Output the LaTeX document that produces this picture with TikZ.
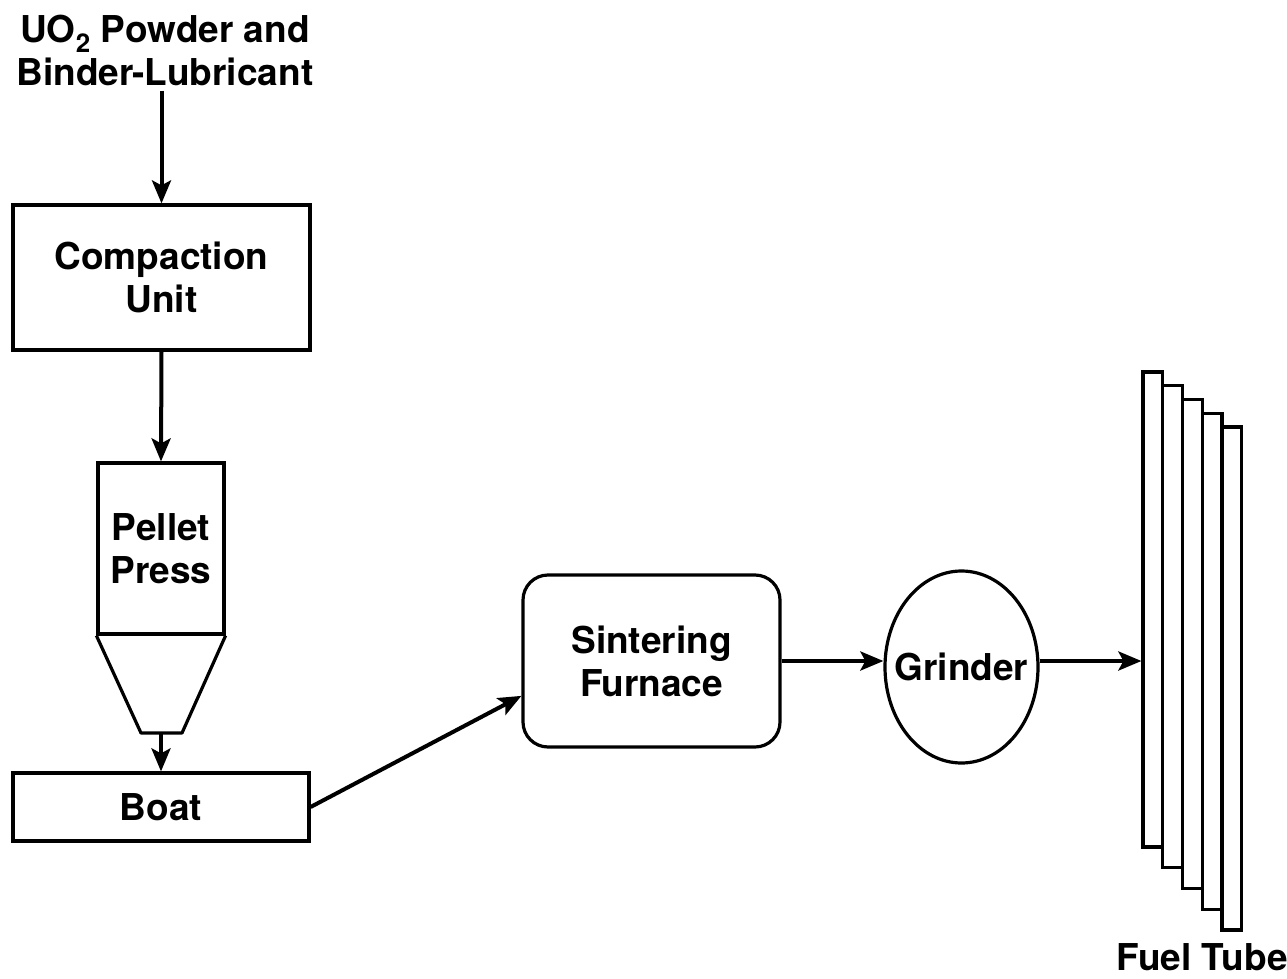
\documentclass[tikz,border=0pt]{standalone}
\usepackage{fontspec}
\setmainfont{TeX Gyre Heros}
\usetikzlibrary{arrows.meta,shapes.geometric}
\tikzset{
	lbl/.style={align=center,font=\bfseries\fontsize{37}{43}\selectfont},
	procbox/.style={lbl,draw,line width=3.2pt,inner sep=0pt},
	flow/.style={line width=4pt,-{Stealth[length=23pt,width=19pt,inset=5pt]}},
	tube/.style={draw,line width=3.2pt,fill=white,inner sep=0pt,minimum width=19.75pt}
}
\begin{document}
\begin{tikzpicture}[x=1pt,y=-1pt]
	\useasboundingbox (0,0) rectangle (1287,979);
	\node [lbl,inner sep=5pt] at (165,50) (feed) {UO\textsubscript{2} Powder and\\Binder-Lubricant};
	\node [procbox,minimum width=297pt,minimum height=145pt] at (161.5,277.5) (compaction) {Compaction\\Unit};
	\node [procbox,minimum width=126pt,minimum height=171pt] at (161,548.5) (press) {Pellet\\Press};
	\draw [line width=3.2pt,line join=round] (press.south west) -- (141,733) -- (182,733) -- (press.south east);
	\coordinate (spout) at (161,733);
	\node [procbox,minimum width=296pt,minimum height=68pt] at (161,807) (boat) {Boat};
	\node [procbox,rounded corners=25pt,minimum width=257pt,minimum height=172pt] at (651.5,661) (furnace) {Sintering\\Furnace};
	\node [procbox,ellipse,inner xsep=-13pt,minimum width=153pt,minimum height=192pt] at (961.5,667) (grinder) {Grinder};
	\foreach \i in {1,...,5}
		\node [tube,minimum height={475+7*(\i-1)}] at ({1152.9+19.75*(\i-1)},{609.5+17.25*(\i-1)}) (tube\i) {};
	\node [lbl] at (1202,957) (tubename) {Fuel Tube};
	\draw [flow] (feed.south -| compaction.north) -- (compaction.north);
	\draw [flow] (compaction.south) -- (press.north);
	\draw [flow] (spout) -- (boat.north);
	\draw [flow] (boat.east) -- (furnace.195);
	\draw [flow] (furnace.east) -- (furnace.east -| grinder.west);
	\draw [flow] (furnace.east -| grinder.east) -- (furnace.east -| tube1.west);
\end{tikzpicture}
\end{document}
